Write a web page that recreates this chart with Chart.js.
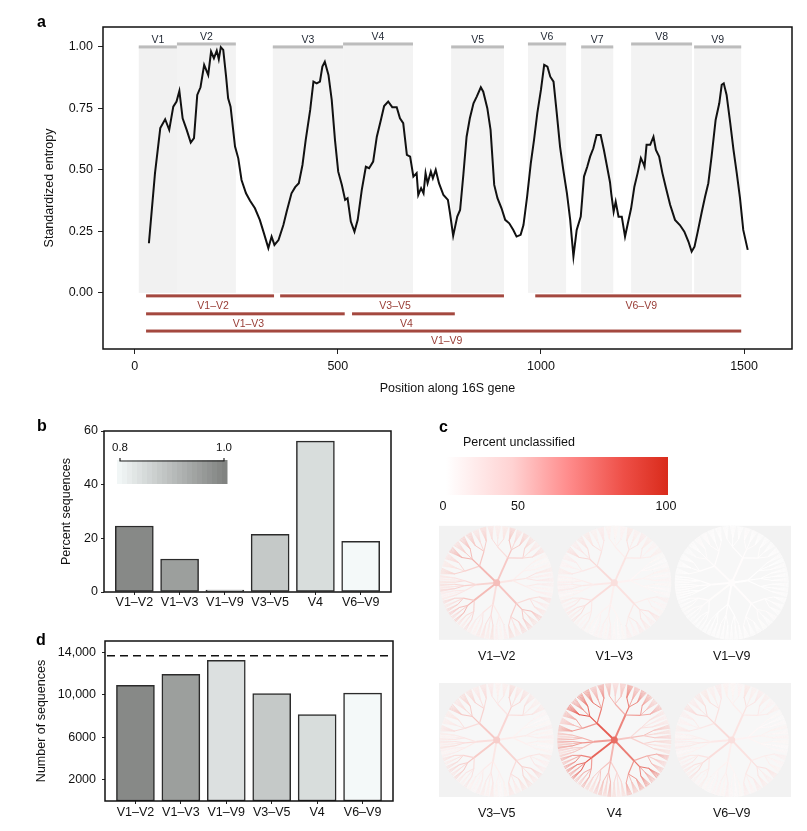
<!DOCTYPE html>
<html>
<head>
<meta charset="utf-8">
<script src="https://cdn.jsdelivr.net/npm/chart.js@4.4.1/dist/chart.umd.min.js"></script>
<style>
  body { margin: 0; background: #fff; width: 807px; height: 831px; position: relative; overflow: hidden; }
  canvas { position: absolute; }
</style>
</head>
<body>
<canvas id="entropyChart" width="807" height="400" style="left:0px;top:0px"></canvas>
<canvas id="percentChart" width="420" height="210" style="left:0px;top:410px"></canvas>
<canvas id="treePanel" width="377" height="421" style="left:430px;top:410px"></canvas>
<canvas id="countChart" width="420" height="211" style="left:0px;top:620px"></canvas>
<script>
// Panel a: entropy along the 16S gene
const positions = [35, 50, 63, 75, 85, 95, 103, 110, 118, 128, 138, 146, 154, 162, 171, 181, 188, 195, 202, 207,
  212, 218, 225, 230, 236, 247, 255, 263, 274, 284, 296, 308, 318, 329, 337, 344, 354, 366, 374, 386,
  395, 404, 413, 421, 432, 440, 448, 456, 462, 468, 477, 485, 493, 501, 510, 518, 524, 532, 541, 549,
  559, 569, 577, 587, 596, 606, 614, 624, 634, 645, 653, 661, 670, 678, 686, 694, 698, 705, 711, 716,
  721, 729, 734, 741, 749, 760, 771, 776, 784, 794, 801, 809, 817, 825, 834, 842, 852, 858, 868, 876,
  885, 893, 903, 912, 922, 932, 940, 950, 957, 966, 975, 983, 991, 1000, 1008, 1016, 1023, 1031, 1039, 1047,
  1055, 1064, 1072, 1080, 1088, 1098, 1106, 1114, 1121, 1129, 1137, 1147, 1155, 1162, 1170, 1173, 1179, 1184, 1191, 1199,
  1207, 1214, 1222, 1230, 1238, 1246, 1252, 1255, 1260, 1269, 1277, 1283, 1291, 1299, 1307, 1318, 1330, 1342, 1353, 1363,
  1371, 1378, 1386, 1396, 1404, 1412, 1420, 1430, 1439, 1445, 1450, 1457, 1466, 1474, 1482, 1490, 1498, 1509];
const entropy = [0.202, 0.487, 0.67, 0.706, 0.663, 0.757, 0.778, 0.821, 0.71, 0.663, 0.611, 0.629, 0.805, 0.836, 0.927, 0.886, 0.981, 0.954, 0.985, 0.95,
  0.999, 0.988, 0.879, 0.791, 0.757, 0.595, 0.547, 0.459, 0.405, 0.375, 0.344, 0.297, 0.243, 0.182, 0.229, 0.195, 0.215, 0.276, 0.33, 0.405,
  0.43, 0.446, 0.52, 0.622, 0.744, 0.859, 0.852, 0.859, 0.92, 0.94, 0.886, 0.785, 0.622, 0.493, 0.439, 0.378, 0.385, 0.29, 0.249, 0.297,
  0.419, 0.513, 0.507, 0.534, 0.635, 0.703, 0.76, 0.778, 0.755, 0.755, 0.71, 0.69, 0.561, 0.554, 0.473, 0.487, 0.398, 0.426, 0.405, 0.487,
  0.446, 0.493, 0.466, 0.5, 0.446, 0.398, 0.378, 0.326, 0.232, 0.31, 0.337, 0.48, 0.635, 0.71, 0.771, 0.798, 0.836, 0.818, 0.751, 0.663,
  0.439, 0.385, 0.344, 0.297, 0.283, 0.256, 0.229, 0.236, 0.276, 0.391, 0.527, 0.622, 0.73, 0.825, 0.927, 0.92, 0.879, 0.859, 0.73, 0.595,
  0.5, 0.405, 0.297, 0.148, 0.256, 0.31, 0.473, 0.513, 0.554, 0.588, 0.642, 0.642, 0.581, 0.52, 0.45, 0.405, 0.33, 0.371, 0.31, 0.31,
  0.229, 0.283, 0.344, 0.432, 0.487, 0.548, 0.527, 0.513, 0.602, 0.602, 0.635, 0.581, 0.554, 0.487, 0.432, 0.358, 0.297, 0.276, 0.249, 0.209,
  0.168, 0.188, 0.249, 0.33, 0.391, 0.446, 0.554, 0.703, 0.771, 0.846, 0.852, 0.805, 0.69, 0.581, 0.487, 0.385, 0.256, 0.175];

const regionNames = ['V1', 'V2', 'V3', 'V4', 'V5', 'V6', 'V7', 'V8', 'V9'];
const regionStart = [10, 104, 340, 513, 779, 968, 1099, 1222, 1377];
const regionEnd = [104, 249, 513, 685, 909, 1062, 1178, 1372, 1493];

// Amplicons (panels a, b, c, d)
const amplicons = ['V1–V2', 'V1–V3', 'V1–V9', 'V3–V5', 'V4', 'V6–V9'];
const ampliconStart = [28, 28, 28, 358, 535, 986];
const ampliconEnd = [343, 517, 1493, 909, 788, 1493];

const xTicks = [0, 500, 1000, 1500];
const yTicks = [0, 0.25, 0.5, 0.75, 1];

// Panel b
const percentSeqs = [24.6, 12.3, 0.5, 21.5, 56.2, 18.9];
const percentTicks = [0, 20, 40, 60];
// shading value of each amplicon, on the 0.8 - 1.0 legend
const shadeValue = [0.985, 0.949, 0.841, 0.88, 0.847, 0.80];
const shadeTicks = [0.8, 1.0];

// Panel c
const unclassified = [20, 10, 1, 15, 45, 10];
const unclassTicks = [0, 50, 100];

// Panel d
const numSeqs = [10900, 11930, 13250, 10130, 8150, 10160];
const totalSeqs = 13700;
const countTicks = [2000, 6000, 10000, 14000];

const FONT = "'Liberation Sans', Arial, Helvetica, sans-serif";
Chart.defaults.font.family = FONT;
Chart.defaults.font.size = 12.5;
Chart.defaults.color = '#111';

const fixedTicks = values => scale => { scale.ticks = values.map(v => ({ value: v })); };

const lo = [244, 249, 249], hi = [126, 128, 126];
function shadeColor(v) {
  const t = Math.max(0, Math.min(1, (v - 0.8) / 0.2));
  return 'rgb(' + lo.map((c, i) => Math.round(c + (hi[i] - c) * t)).join(',') + ')';
}
function redMix(t) {
  t = Math.max(0, Math.min(1, t));
  return 'rgb(' + [255 + (222 - 255) * t, 255 + (43 - 255) * t, 255 + (30 - 255) * t].map(Math.round).join(',') + ')';
}

function panelLabel(ctx, txt, x, y) {
  ctx.save();
  ctx.font = 'bold 16px ' + FONT;
  ctx.fillStyle = '#000';
  ctx.textAlign = 'left';
  ctx.textBaseline = 'alphabetic';
  ctx.fillText(txt, x, y);
  ctx.restore();
}
function frame(chart) {
  const { ctx, chartArea: a } = chart;
  ctx.save();
  ctx.strokeStyle = '#111';
  ctx.lineWidth = 1.5;
  ctx.strokeRect(a.left, a.top, a.right - a.left, a.bottom - a.top);
  ctx.restore();
}

// ---------- panel a ----------
const ampRow = [0, 1, 2, 0, 1, 0];
const rowY = [-0.012, -0.085, -0.155];
const entropyDecor = {
  id: 'entropyDecor',
  beforeDatasetsDraw(chart) {
    const { ctx, scales: { x, y } } = chart;
    ctx.save();
    const base = y.getPixelForValue(0);
    regionNames.forEach((name, i) => {
      const x0 = x.getPixelForValue(regionStart[i]);
      const x1 = x.getPixelForValue(regionEnd[i]);
      const top = y.getPixelForValue(i % 2 ? 1.012 : 1.0);
      ctx.fillStyle = i === 0 ? '#f1f1f1' : '#f3f3f3';
      ctx.fillRect(x0, top, x1 - x0, base - top);
      ctx.fillStyle = '#bcbcbc';
      ctx.fillRect(x0, top - 1.5, x1 - x0, 3);
      ctx.fillStyle = '#1d2430';
      ctx.font = '10.5px ' + FONT;
      ctx.textAlign = 'center';
      ctx.textBaseline = 'alphabetic';
      ctx.fillText(name, (x0 + x1) / 2, top - 4);
    });
    amplicons.forEach((name, i) => {
      const x0 = x.getPixelForValue(ampliconStart[i]);
      const x1 = x.getPixelForValue(ampliconEnd[i]);
      const py = y.getPixelForValue(rowY[ampRow[i]]);
      ctx.fillStyle = '#a4483f';
      ctx.fillRect(x0, py - 1.5, x1 - x0, 3);
      ctx.fillStyle = '#983c35';
      ctx.font = '10.5px ' + FONT;
      ctx.textAlign = 'center';
      ctx.textBaseline = 'middle';
      ctx.fillText(name, (x0 + x1) / 2 + 3, py + 10);
    });
    ctx.restore();
  },
  afterDraw(chart) {
    frame(chart);
    panelLabel(chart.ctx, 'a', 37, 27);
  }
};

new Chart(document.getElementById('entropyChart'), {
  type: 'line',
  data: {
    datasets: [{
      data: positions.map((p, i) => ({ x: p, y: entropy[i] })),
      borderColor: '#111',
      borderWidth: 2,
      pointRadius: 0,
      tension: 0,
      fill: false
    }]
  },
  options: {
    responsive: false,
    animation: false,
    layout: { padding: { top: 27, right: 15, left: 0, bottom: 0 } },
    plugins: { legend: { display: false }, tooltip: { enabled: false } },
    scales: {
      x: {
        type: 'linear', min: -78, max: 1618,
        afterBuildTicks: fixedTicks(xTicks),
        afterFit: s => { s.height = 51; },
        ticks: { callback: v => String(v), padding: 5, maxRotation: 0, autoSkip: false },
        grid: { drawOnChartArea: false, tickLength: 5, color: '#222' },
        border: { display: false },
        title: { display: true, text: 'Position along 16S gene', padding: { top: 0, bottom: 4 } }
      },
      y: {
        min: -0.228, max: 1.081,
        afterBuildTicks: fixedTicks(yTicks),
        afterFit: s => { s.width = 103; },
        ticks: { callback: v => v.toFixed(2), padding: 5, autoSkip: false },
        grid: { drawOnChartArea: false, tickLength: 5, color: '#222' },
        border: { display: false },
        title: { display: true, text: 'Standardized entropy', padding: { top: 42, bottom: 0 } }
      }
    }
  },
  plugins: [entropyDecor]
});

// ---------- panel b ----------
const percentDecor = {
  id: 'percentDecor',
  afterDraw(chart) {
    const ctx = chart.ctx;
    frame(chart);
    panelLabel(ctx, 'b', 37, 21);
    // shade legend
    const gx0 = 117, gx1 = 227, gy0 = 50, gy1 = 74, steps = 22;
    const sw = (gx1 - gx0) / steps;
    for (let k = 0; k < steps; k++) {
      ctx.fillStyle = shadeColor(0.8 + 0.2 * (k + 0.5) / steps);
      ctx.fillRect(gx0 + k * sw, gy0, sw + 0.5, gy1 - gy0);
    }
    const bx0 = 120, bx1 = 224;
    ctx.save();
    ctx.strokeStyle = '#222';
    ctx.lineWidth = 1.2;
    ctx.beginPath();
    ctx.moveTo(bx0, 48); ctx.lineTo(bx0, 51); ctx.lineTo(bx1, 51); ctx.lineTo(bx1, 48);
    ctx.stroke();
    ctx.font = '11.5px ' + FONT;
    ctx.fillStyle = '#111';
    ctx.textAlign = 'center';
    ctx.textBaseline = 'middle';
    shadeTicks.forEach((v, i) => ctx.fillText(v.toFixed(1), i === 0 ? bx0 : bx1, 37.5));
    ctx.restore();
  }
};

const barX = {
  type: 'linear', min: 0.33, max: 6.67, offset: false,
  afterBuildTicks: fixedTicks([1, 2, 3, 4, 5, 6]),
  ticks: { callback: v => amplicons[v - 1], maxRotation: 0, autoSkip: false },
  grid: { drawOnChartArea: false, offset: false, tickLength: 3, color: '#222' },
  border: { display: false }
};

new Chart(document.getElementById('percentChart'), {
  type: 'bar',
  data: {
    datasets: [{
      data: amplicons.map((a, i) => ({ x: i + 1, y: percentSeqs[i] })),
      backgroundColor: shadeValue.map(shadeColor),
      borderColor: '#2b2b2b',
      borderWidth: 1.5,
      borderSkipped: false,
      barThickness: 38,
      minBarLength: 2
    }]
  },
  options: {
    responsive: false,
    animation: false,
    layout: { padding: { top: 21, right: 29, left: 0, bottom: 0 } },
    plugins: { legend: { display: false }, tooltip: { enabled: false } },
    scales: {
      x: Object.assign({}, barX, {
        afterFit: s => { s.height = 28; },
        ticks: Object.assign({}, barX.ticks, { padding: 0 })
      }),
      y: {
        min: 0, max: 60,
        afterBuildTicks: fixedTicks(percentTicks),
        afterFit: s => { s.width = 104; },
        ticks: { padding: 3, autoSkip: false },
        grid: { drawOnChartArea: false, tickLength: 3, color: '#222' },
        border: { display: false },
        title: { display: true, text: 'Percent sequences', padding: { top: 59, bottom: 0 } }
      }
    }
  },
  plugins: [percentDecor]
});

// ---------- panel d ----------
const countDecor = {
  id: 'countDecor',
  afterDatasetsDraw(chart) {
    const { ctx, chartArea: a, scales: { y } } = chart;
    const py = y.getPixelForValue(totalSeqs);
    ctx.save();
    ctx.strokeStyle = '#111';
    ctx.lineWidth = 1.5;
    ctx.setLineDash([8, 5]);
    ctx.beginPath();
    ctx.moveTo(a.left + 2, py);
    ctx.lineTo(a.right - 4, py);
    ctx.stroke();
    ctx.restore();
  },
  afterDraw(chart) {
    frame(chart);
    panelLabel(chart.ctx, 'd', 36, 25);
  }
};

new Chart(document.getElementById('countChart'), {
  type: 'bar',
  data: {
    datasets: [{
      data: amplicons.map((a, i) => ({ x: i + 1, y: numSeqs[i] })),
      backgroundColor: shadeValue.map(shadeColor),
      borderColor: '#2b2b2b',
      borderWidth: 1.5,
      borderSkipped: false,
      barThickness: 38
    }]
  },
  options: {
    responsive: false,
    animation: false,
    layout: { padding: { top: 21, right: 27, left: 0, bottom: 0 } },
    plugins: { legend: { display: false }, tooltip: { enabled: false } },
    scales: {
      x: Object.assign({}, barX, {
        afterFit: s => { s.height = 30; },
        ticks: Object.assign({}, barX.ticks, { padding: 1 })
      }),
      y: {
        min: 0, max: 15080,
        afterBuildTicks: fixedTicks(countTicks),
        afterFit: s => { s.width = 105; },
        ticks: { callback: v => v >= 10000 ? v.toLocaleString('en-US') : String(v), padding: 6, autoSkip: false },
        grid: { drawOnChartArea: false, tickLength: 3, color: '#222' },
        border: { display: false },
        title: { display: true, text: 'Number of sequences', padding: { top: 34, bottom: 0 } }
      }
    }
  },
  plugins: [countDecor]
});

// ---------- panel c ----------
// tree drawing layout: [startDeg, endDeg, nodeRadius, cladeWeight]
const treeClades = [
  [-82, -10, 0.42, 1.0],
  [-10, 58, 0.48, 0.75],
  [58, 105, 0.28, 0.35],
  [105, 168, 0.5, 0.8],
  [168, 212, 0.38, 0.45],
  [212, 252, 0.5, 0.95],
  [252, 278, 0.36, 0.6]
];
const subWeight = [0.7, 1.2, 0.9];
const twigWeight = [1.15, 0.75, 1.0];

function drawTree(ctx, cx, cy, R, pct) {
  const level = pct / 100 * 1.7;
  const pt = (deg, r) => [cx + Math.sin(deg * Math.PI / 180) * r * R, cy - Math.cos(deg * Math.PI / 180) * r * R];
  const seg = (a, b, col, w) => {
    ctx.strokeStyle = col; ctx.lineWidth = w;
    ctx.beginPath(); ctx.moveTo(a[0], a[1]); ctx.lineTo(b[0], b[1]); ctx.stroke();
  };
  ctx.save();
  ctx.beginPath();
  ctx.arc(cx, cy, R, 0, Math.PI * 2);
  ctx.fillStyle = '#f7f7f7';
  ctx.fill();
  ctx.clip();
  treeClades.forEach(([a0, a1, rn, w]) => {
    const node = pt((a0 + a1) / 2, rn);
    subWeight.forEach((sw, s) => {
      const s0 = a0 + (a1 - a0) * s / 3, s1 = a0 + (a1 - a0) * (s + 1) / 3;
      const rs = rn + (0.86 - rn) * 0.4;
      const sub = pt((s0 + s1) / 2, rs);
      const ts = level * w * sw;
      twigWeight.forEach((tw, q) => {
        const q0 = s0 + (s1 - s0) * q / 3, q1 = s0 + (s1 - s0) * (q + 1) / 3;
        const rq = rs + (0.95 - rs) * 0.45;
        const twig = pt((q0 + q1) / 2, rq);
        const tq = ts * tw;
        const n = Math.max(3, Math.round((q1 - q0) / 1.3));
        ctx.strokeStyle = redMix(tq * 0.7);
        ctx.lineWidth = 0.6;
        ctx.beginPath();
        for (let k = 0; k < n; k++) {
          const e = pt(q0 + (k + 0.5) * (q1 - q0) / n, 1.05);
          ctx.moveTo(twig[0], twig[1]);
          ctx.lineTo(e[0], e[1]);
        }
        ctx.stroke();
        seg(sub, twig, redMix(tq * 0.85), 0.9);
      });
      seg(node, sub, redMix(ts * 0.9), 1.2);
    });
    seg([cx, cy], node, redMix(level * w), 1.9);
  });
  ctx.beginPath();
  ctx.arc(cx, cy, 3.5, 0, Math.PI * 2);
  ctx.fillStyle = redMix(level * 0.9);
  ctx.fill();
  ctx.restore();
}

const treeDecor = {
  id: 'treeDecor',
  afterDraw(chart) {
    const ctx = chart.ctx;
    panelLabel(ctx, 'c', 9, 22);
    ctx.save();
    ctx.font = '12.5px ' + FONT;
    ctx.fillStyle = '#111';
    ctx.textAlign = 'left';
    ctx.textBaseline = 'middle';
    ctx.fillText('Percent unclassified', 33, 33);
    const g = ctx.createLinearGradient(16, 0, 238, 0);
    g.addColorStop(0, '#ffffff');
    g.addColorStop(0.3, '#ffd2d2');
    g.addColorStop(0.55, '#ff8c8c');
    g.addColorStop(0.8, '#ee4f47');
    g.addColorStop(1, '#d92b1b');
    ctx.fillStyle = g;
    ctx.fillRect(16, 47, 222, 38);
    ctx.fillStyle = '#111';
    ctx.textAlign = 'center';
    const tickX = [13, 88, 236];
    unclassTicks.forEach((v, i) => ctx.fillText(String(v), tickX[i], 97));
    const rowsY = [172.8, 330];
    const colsX = [66.7, 184.3, 301.7];
    rowsY.forEach((cy, r) => {
      ctx.fillStyle = '#f2f2f2';
      ctx.fillRect(9, cy - 57, 352, 114);
      colsX.forEach((cx, c) => {
        const idx = r * 3 + c;
        drawTree(ctx, cx, cy, 57, unclassified[idx]);
        ctx.fillStyle = '#111';
        ctx.font = '12.5px ' + FONT;
        ctx.textAlign = 'center';
        ctx.textBaseline = 'middle';
        ctx.fillText(amplicons[idx], cx, cy + 73.5);
      });
    });
    ctx.restore();
  }
};

new Chart(document.getElementById('treePanel'), {
  type: 'scatter',
  data: { datasets: [] },
  options: {
    responsive: false,
    animation: false,
    plugins: { legend: { display: false }, tooltip: { enabled: false } },
    scales: { x: { display: false }, y: { display: false } }
  },
  plugins: [treeDecor]
});
</script>
</body>
</html>
